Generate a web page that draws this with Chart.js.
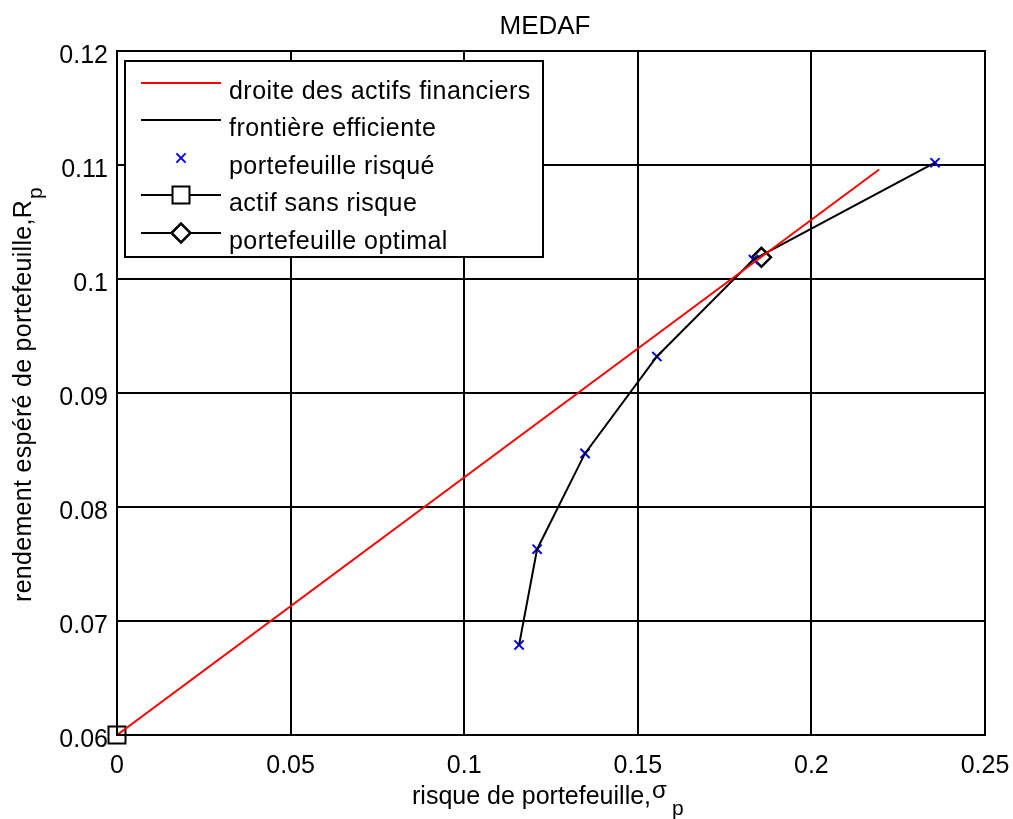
<!DOCTYPE html>
<html>
<head>
<meta charset="utf-8">
<script src="https://cdn.jsdelivr.net/npm/chart.js@4"></script>
<style>
  html, body { margin: 0; padding: 0; background: #fff; }
  #wrap { width: 1013px; height: 819px; }
</style>
</head>
<body>
<div id="wrap"><canvas id="medafChart" width="1013" height="819"></canvas></div>
<script>
// valeurs
const risqueRisque = [0.1158, 0.121, 0.1348, 0.1555, 0.1833, 0.2356];
const rendementRisque = [0.0679, 0.0763, 0.0847, 0.0932, 0.1017, 0.1102];
const droiteX = [0, 0.2195];
const droiteY = [0.06, 0.1096];
const sansRisque = [0, 0.06];
const optimal = [0.1856, 0.1019];
const xTicks = [0, 0.05, 0.1, 0.15, 0.2, 0.25];
const xTickLabels = ['0', '0.05', '0.1', '0.15', '0.2', '0.25'];
const yTicks = [0.06, 0.07, 0.08, 0.09, 0.1, 0.11, 0.12];
const yTickLabels = ['0.06', '0.07', '0.08', '0.09', '0.1', '0.11', '0.12'];

const FONT = '"Liberation Sans", Arial, Helvetica, sans-serif';

const pts = (xs, ys) => xs.map((x, i) => ({ x: x, y: ys[i] }));

// legende style MATLAB dans la zone du graphique
const legendPlugin = {
    id: 'matlabLegend',
    afterDatasetsDraw(chart) {
        const ctx = chart.ctx;
        const bx = 125, by = 61, bw = 418, bh = 196;
        ctx.save();
        ctx.fillStyle = '#fff';
        ctx.fillRect(bx, by, bw, bh);
        ctx.lineWidth = 2;
        ctx.strokeStyle = '#000';
        ctx.strokeRect(bx, by, bw, bh);
        const rows = [83, 120, 158, 195, 233];
        chart.data.datasets.forEach((ds, i) => {
            const y = rows[i];
            if (ds.legendLine) {
                ctx.beginPath();
                ctx.strokeStyle = ds.borderColor;
                ctx.lineWidth = 2;
                ctx.moveTo(141, y);
                ctx.lineTo(221, y);
                ctx.stroke();
            }
            if (ds.legendMarker) {
                ctx.save();
                ctx.fillStyle = '#fff';
                ctx.strokeStyle = ds.pointBorderColor;
                ctx.lineWidth = ds.pointBorderWidth;
                Chart.helpers.drawPoint(ctx, {
                    pointStyle: ds.pointStyle,
                    radius: ds.pointRadius,
                    borderWidth: ds.pointBorderWidth
                }, 181, y);
                ctx.restore();
            }
            ctx.fillStyle = '#000';
            ctx.font = '25px ' + FONT;
            ctx.letterSpacing = '0.45px';
            ctx.textBaseline = 'middle';
            ctx.textAlign = 'left';
            ctx.fillText(ds.label, 229, y + 9);
        });
        ctx.restore();
    }
};

// titres des axes avec indices
const axisTitles = {
    id: 'axisTitles',
    afterDraw(chart) {
        const ctx = chart.ctx;
        ctx.save();
        ctx.fillStyle = '#000';
        ctx.textBaseline = 'alphabetic';
        ctx.textAlign = 'left';

        // x
        ctx.font = '25px ' + FONT;
        const base = 'risque de portefeuille,';
        const wBase = ctx.measureText(base).width;
        ctx.fillText(base, 412, 804);
        ctx.font = '24px ' + FONT;
        ctx.fillText('σ', 412 + wBase + 1, 798);
        ctx.font = '21px ' + FONT;
        ctx.fillText('p', 672, 815);

        // y
        ctx.font = '25px ' + FONT;
        ctx.letterSpacing = '0.3px';
        ctx.translate(31, 602);
        ctx.rotate(-Math.PI / 2);
        const yBase = 'rendement espéré de portefeuille,R';
        const wY = ctx.measureText(yBase).width;
        ctx.fillText(yBase, 0, 0);
        ctx.font = '21px ' + FONT;
        ctx.fillText('p', wY + 1, 11);
        ctx.restore();
    }
};

new Chart(document.getElementById('medafChart').getContext('2d'), {
    type: 'scatter',
    data: {
        datasets: [{
            label: 'droite des actifs financiers',
            data: pts(droiteX, droiteY),
            showLine: true,
            borderColor: '#ff0000',
            borderWidth: 2,
            pointRadius: 0,
            legendLine: true
        }, {
            label: 'frontière efficiente',
            data: pts(risqueRisque, rendementRisque),
            showLine: true,
            borderColor: '#000',
            borderWidth: 2,
            pointRadius: 0,
            legendLine: true
        }, {
            label: 'portefeuille risqué',
            data: pts(risqueRisque, rendementRisque),
            showLine: false,
            pointStyle: 'crossRot',
            pointRadius: 6.5,
            pointBorderWidth: 2,
            pointBorderColor: '#0000ff',
            borderColor: '#0000ff',
            legendMarker: true
        }, {
            label: 'actif sans risque',
            data: [{ x: sansRisque[0], y: sansRisque[1] }],
            showLine: false,
            clip: false,
            pointStyle: 'rect',
            pointRadius: 12,
            pointBorderWidth: 2,
            pointBorderColor: '#000',
            borderColor: '#000',
            pointBackgroundColor: 'rgba(0,0,0,0)',
            legendLine: true,
            legendMarker: true
        }, {
            label: 'portefeuille optimal',
            data: [{ x: optimal[0], y: optimal[1] }],
            showLine: false,
            clip: false,
            pointStyle: 'rectRot',
            pointRadius: 9.5,
            pointBorderWidth: 2.5,
            pointBorderColor: '#000',
            borderColor: '#000',
            pointBackgroundColor: 'rgba(0,0,0,0)',
            legendLine: true,
            legendMarker: true
        }]
    },
    options: {
        responsive: false,
        animation: false,
        events: [],
        layout: { padding: { left: 0, top: 51, right: 28, bottom: 0 } },
        plugins: {
            legend: { display: false },
            tooltip: { enabled: false },
            title: { display: false }
        },
        scales: {
            x: {
                type: 'linear',
                min: 0,
                max: 0.25,
                afterFit: s => {
                    s.height = 84;
                    s.paddingLeft = 0;
                    s.paddingRight = 0;
                },
                afterBuildTicks: s => { s.ticks = xTicks.map(v => ({ value: v })); },
                ticks: {
                    padding: 16,
                    color: '#000',
                    font: { family: FONT, size: 25 },
                    maxRotation: 0,
                    callback: (v) => xTickLabels[xTicks.indexOf(v)]
                },
                grid: { color: '#000', lineWidth: 2, drawTicks: false },
                border: { color: '#000', width: 2 }
            },
            y: {
                type: 'linear',
                min: 0.06,
                max: 0.12,
                afterFit: s => {
                    s.width = 117;
                    s.paddingTop = 0;
                    s.paddingBottom = 0;
                },
                afterBuildTicks: s => { s.ticks = yTicks.map(v => ({ value: v })); },
                ticks: {
                    padding: 9,
                    labelOffset: 5,
                    color: '#000',
                    font: { family: FONT, size: 25 },
                    callback: (v) => yTickLabels[yTicks.indexOf(v)]
                },
                grid: { color: '#000', lineWidth: 2, drawTicks: false },
                border: { color: '#000', width: 2 }
            }
        }
    },
    plugins: [legendPlugin, axisTitles, {
        id: 'frame',
        afterDraw(chart) {
            const a = chart.chartArea;
            const ctx = chart.ctx;
            ctx.save();
            ctx.strokeStyle = '#000';
            ctx.lineWidth = 2;
            ctx.strokeRect(a.left, a.top, a.right - a.left, a.bottom - a.top);
            ctx.fillStyle = '#000';
            ctx.font = '26px ' + FONT;
            ctx.textAlign = 'center';
            ctx.textBaseline = 'middle';
            ctx.fillText('MEDAF', 545, 27);
            ctx.restore();
        }
    }]
});
</script>
</body>
</html>
